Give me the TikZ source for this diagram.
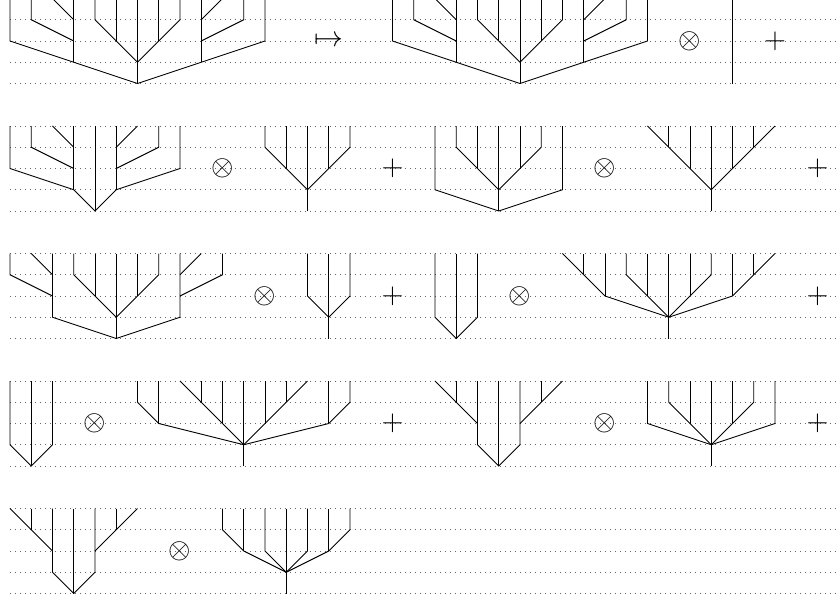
\documentclass[tikz,border=0pt]{standalone}
\usepackage{amsmath,amssymb}
\usepackage{tikz}

\begin{document}
\begin{tikzpicture}[x=10.625pt, y=-10.625pt,
  branch/.style={line width=0.45pt, line join=miter},
  rail/.style={line width=0.3pt, black!60, dash pattern=on 0.3pt off 2.2pt},
  op/.style={inner sep=0pt, font=\fontsize{13.4}{16}\selectfont}
]
\useasboundingbox (-0.4706,0.0706) rectangle (38.965,28.306);

% Staff lines
\foreach \r in {0,6,12,18,24}
  \foreach \k in {0,...,4}
    \draw[rail] (0,\r+\k) -- (39,\r+\k);

% Big tree of the first row, used twice
\def\bigtree{
  \draw[branch] (6,4) -- (6,0);
  \draw[branch] (0,0) -- (0,2) -- (3,3) -- (6,4) -- (9,3) -- (12,2) -- (12,0);
  \draw[branch] (3,3) -- (3,0);
  \draw[branch] (9,3) -- (9,0);
  \draw[branch] (1,0) -- (1,1) -- (3,2);
  \draw[branch] (2,0) -- (3,1);
  \draw[branch] (11,0) -- (11,1) -- (9,2);
  \draw[branch] (10,0) -- (9,1);
  \draw[branch] (4,0) -- (4,1) -- (6,3) -- (8,1) -- (8,0);
  \draw[branch] (5,0) -- (5,2);
  \draw[branch] (7,0) -- (7,2);
}

% Row 1
\bigtree
\node[op] (mapa) at (15,2) {$\mapsto$};
\begin{scope}[shift={(18,0)}]
  \bigtree
\end{scope}
\node[op] (otaa) at (32,2) {$\otimes$};
\draw[branch] (34,0) -- (34,4);
\node[op] (plusa) at (36,2) {$+$};

% Row 2
\begin{scope}[shift={(0,6)}]
  \draw[branch] (4,4) -- (4,0);
  \draw[branch] (0,0) -- (0,2) -- (3,3) -- (4,4) -- (5,3) -- (8,2) -- (8,0);
  \draw[branch] (3,3) -- (3,0);
  \draw[branch] (5,3) -- (5,0);
  \draw[branch] (1,0) -- (1,1) -- (3,2);
  \draw[branch] (2,0) -- (3,1);
  \draw[branch] (7,0) -- (7,1) -- (5,2);
  \draw[branch] (6,0) -- (5,1);
  \node[op] (otba) at (10,2) {$\otimes$};
  \draw[branch] (14,4) -- (14,0);
  \draw[branch] (12,0) -- (12,1) -- (14,3) -- (16,1) -- (16,0);
  \draw[branch] (13,0) -- (13,2);
  \draw[branch] (15,0) -- (15,2);
  \node[op] (plusb) at (18,2) {$+$};
  \draw[branch] (23,4) -- (23,0);
  \draw[branch] (20,0) -- (20,3) -- (23,4) -- (26,3) -- (26,0);
  \draw[branch] (21,0) -- (21,1) -- (23,3) -- (25,1) -- (25,0);
  \draw[branch] (22,0) -- (22,2);
  \draw[branch] (24,0) -- (24,2);
  \node[op] (otbb) at (28,2) {$\otimes$};
  \draw[branch] (33,4) -- (33,0);
  \draw[branch] (30,0) -- (33,3) -- (36,0);
  \draw[branch] (31,0) -- (31,1);
  \draw[branch] (32,0) -- (32,2);
  \draw[branch] (34,0) -- (34,2);
  \draw[branch] (35,0) -- (35,1);
  \node[op] (plusc) at (38,2) {$+$};
\end{scope}

% Row 3
\begin{scope}[shift={(0,12)}]
  \draw[branch] (5,4) -- (5,0);
  \draw[branch] (2,0) -- (2,3) -- (5,4) -- (8,3) -- (8,0);
  \draw[branch] (0,0) -- (0,1) -- (2,2);
  \draw[branch] (1,0) -- (2,1);
  \draw[branch] (10,0) -- (10,1) -- (8,2);
  \draw[branch] (9,0) -- (8,1);
  \draw[branch] (3,0) -- (3,1) -- (5,3) -- (7,1) -- (7,0);
  \draw[branch] (4,0) -- (4,2);
  \draw[branch] (6,0) -- (6,2);
  \node[op] (otca) at (12,2) {$\otimes$};
  \draw[branch] (15,4) -- (15,0);
  \draw[branch] (14,0) -- (14,2) -- (15,3) -- (16,2) -- (16,0);
  \node[op] (plusd) at (18,2) {$+$};
  \draw[branch] (21,4) -- (21,0);
  \draw[branch] (20,0) -- (20,3) -- (21,4) -- (22,3) -- (22,0);
  \node[op] (otcb) at (24,2) {$\otimes$};
  \draw[branch] (31,4) -- (31,0);
  \draw[branch] (26,0) -- (28,2) -- (31,3) -- (34,2) -- (36,0);
  \draw[branch] (27,0) -- (27,1);
  \draw[branch] (28,0) -- (28,2);
  \draw[branch] (34,0) -- (34,2);
  \draw[branch] (35,0) -- (35,1);
  \draw[branch] (29,0) -- (29,1) -- (31,3) -- (33,1) -- (33,0);
  \draw[branch] (30,0) -- (30,2);
  \draw[branch] (32,0) -- (32,2);
  \node[op] (pluse) at (38,2) {$+$};
\end{scope}

% Row 4
\begin{scope}[shift={(0,18)}]
  \draw[branch] (1,4) -- (1,0);
  \draw[branch] (0,0) -- (0,3) -- (1,4) -- (2,3) -- (2,0);
  \node[op] (otda) at (4,2) {$\otimes$};
  \draw[branch] (11,4) -- (11,0);
  \draw[branch] (6,0) -- (6,1) -- (7,2) -- (11,3) -- (15,2) -- (16,1) -- (16,0);
  \draw[branch] (7,0) -- (7,2);
  \draw[branch] (15,0) -- (15,2);
  \draw[branch] (8,0) -- (11,3) -- (14,0);
  \draw[branch] (9,0) -- (9,1);
  \draw[branch] (10,0) -- (10,2);
  \draw[branch] (12,0) -- (12,2);
  \draw[branch] (13,0) -- (13,1);
  \node[op] (plusf) at (18,2) {$+$};
  \draw[branch] (23,4) -- (23,0);
  \draw[branch] (22,0) -- (22,3) -- (23,4) -- (24,3) -- (24,0);
  \draw[branch] (20,0) -- (22,2);
  \draw[branch] (21,0) -- (21,1);
  \draw[branch] (26,0) -- (24,2);
  \draw[branch] (25,0) -- (25,1);
  \node[op] (otdb) at (28,2) {$\otimes$};
  \draw[branch] (33,4) -- (33,0);
  \draw[branch] (30,0) -- (30,2) -- (33,3) -- (36,2) -- (36,0);
  \draw[branch] (31,0) -- (31,1) -- (33,3) -- (35,1) -- (35,0);
  \draw[branch] (32,0) -- (32,2);
  \draw[branch] (34,0) -- (34,2);
  \node[op] (plusg) at (38,2) {$+$};
\end{scope}

% Row 5
\begin{scope}[shift={(0,24)}]
  \draw[branch] (3,4) -- (3,0);
  \draw[branch] (2,0) -- (2,3) -- (3,4) -- (4,3) -- (4,0);
  \draw[branch] (0,0) -- (2,2);
  \draw[branch] (1,0) -- (1,1);
  \draw[branch] (6,0) -- (4,2);
  \draw[branch] (5,0) -- (5,1);
  \node[op] (otea) at (8,2) {$\otimes$};
  \draw[branch] (13,4) -- (13,0);
  \draw[branch] (10,0) -- (10,1) -- (11,2) -- (13,3) -- (15,2) -- (16,1) -- (16,0);
  \draw[branch] (11,0) -- (11,2);
  \draw[branch] (15,0) -- (15,2);
  \draw[branch] (12,0) -- (12,2) -- (13,3) -- (14,2) -- (14,0);
\end{scope}
\end{tikzpicture}
\end{document}
